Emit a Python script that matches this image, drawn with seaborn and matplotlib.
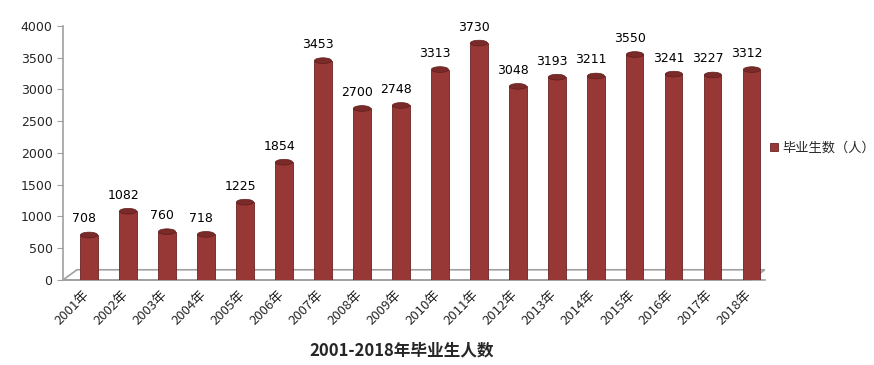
import matplotlib
matplotlib.use('Agg')
import matplotlib.pyplot as plt
import seaborn as sns
import pandas as pd
from matplotlib.patches import Ellipse, Polygon

years = ['2001年', '2002年', '2003年', '2004年', '2005年', '2006年', '2007年', '2008年', '2009年',
         '2010年', '2011年', '2012年', '2013年', '2014年', '2015年', '2016年', '2017年', '2018年']
graduates = [708, 1082, 760, 718, 1225, 1854, 3453, 2700, 2748,
             3313, 3730, 3048, 3193, 3211, 3550, 3241, 3227, 3312]
series_name = '毕业生数（人）'
title = '2001-2018年毕业生人数'

sns.set_style('white')
plt.rcParams['font.family'] = ['Noto Sans CJK SC', 'DejaVu Sans']

df = pd.DataFrame({'year': years, 'value': graduates})

fig = plt.figure(figsize=(8.74, 3.65), dpi=100)
ax = fig.add_axes([0.072, 0.233, 0.803, 0.696])

bar_color = '#983836'
bw = 0.44
shift = 0.17
sns.barplot(data=df, x='year', y='value', color=bar_color, width=bw,
            saturation=1, ax=ax, label=series_name, zorder=3)
for p in ax.patches:
    p.set_x(p.get_x() + shift)
    p.set_edgecolor('#6b2322')
    p.set_linewidth(0.6)

# cylinder caps and value labels
for i, v in enumerate(graduates):
    ax.add_patch(Ellipse((i + shift, v), bw, 90, facecolor='#7a2a28',
                         edgecolor='#5e1e1d', linewidth=0.5, zorder=4))
    ax.add_patch(Ellipse((i + shift, 40), bw, 70, facecolor=bar_color,
                         edgecolor='none', zorder=3))
    ax.text(i + 0.05, v + 150, str(v), ha='center', va='bottom', fontsize=9,
            color='black', family=['DejaVu Sans'])

ax.set_xlim(-0.5, len(years) - 0.5)
ax.set_ylim(0, 4000)
ax.set_yticks(range(0, 4001, 500))
ax.set_yticklabels([str(t) for t in range(0, 4001, 500)], fontsize=9,
                   family=['DejaVu Sans'])
ax.set_xticks([i - 0.5 for i in range(len(years) + 1)], minor=True)
ax.set_xticks(range(len(years)))
ax.set_xticklabels(years, rotation=45, ha='right', rotation_mode='anchor', fontsize=9.5)
ax.tick_params(axis='x', which='major', length=0, pad=6)
ax.tick_params(axis='x', which='minor', length=5, color='#a0a0a0', direction='out')
ax.tick_params(axis='y', length=4, color='#a0a0a0', direction='out', left=True)
for lbl in ax.get_xticklabels():
    lbl.set_x(lbl.get_position()[0] + 0.5)
ax.set_xlabel('')
ax.set_ylabel('')

for s in ['top', 'right']:
    ax.spines[s].set_visible(False)
ax.spines['left'].set_color('#a0a0a0')
ax.spines['bottom'].set_color('#a0a0a0')
ax.spines['left'].set_linewidth(1.2)
ax.spines['bottom'].set_linewidth(1.2)

# 3D floor
floor = Polygon([(0, 0), (0.02, 0.04), (1.0, 0.04), (0.98, 0.0)], closed=True,
                transform=ax.transAxes, facecolor='white', edgecolor='#a0a0a0',
                linewidth=1.2, zorder=2, clip_on=False)
ax.add_patch(floor)

leg = ax.legend(loc='center left', bbox_to_anchor=(0.99, 0.52), frameon=False,
                fontsize=9.5, handlelength=0.6, handleheight=0.6, handletextpad=0.4)

fig.text(0.46, 0.015, title, ha='center', va='bottom', fontsize=12, fontweight='bold')

fig.savefig('out.png', dpi=100)
